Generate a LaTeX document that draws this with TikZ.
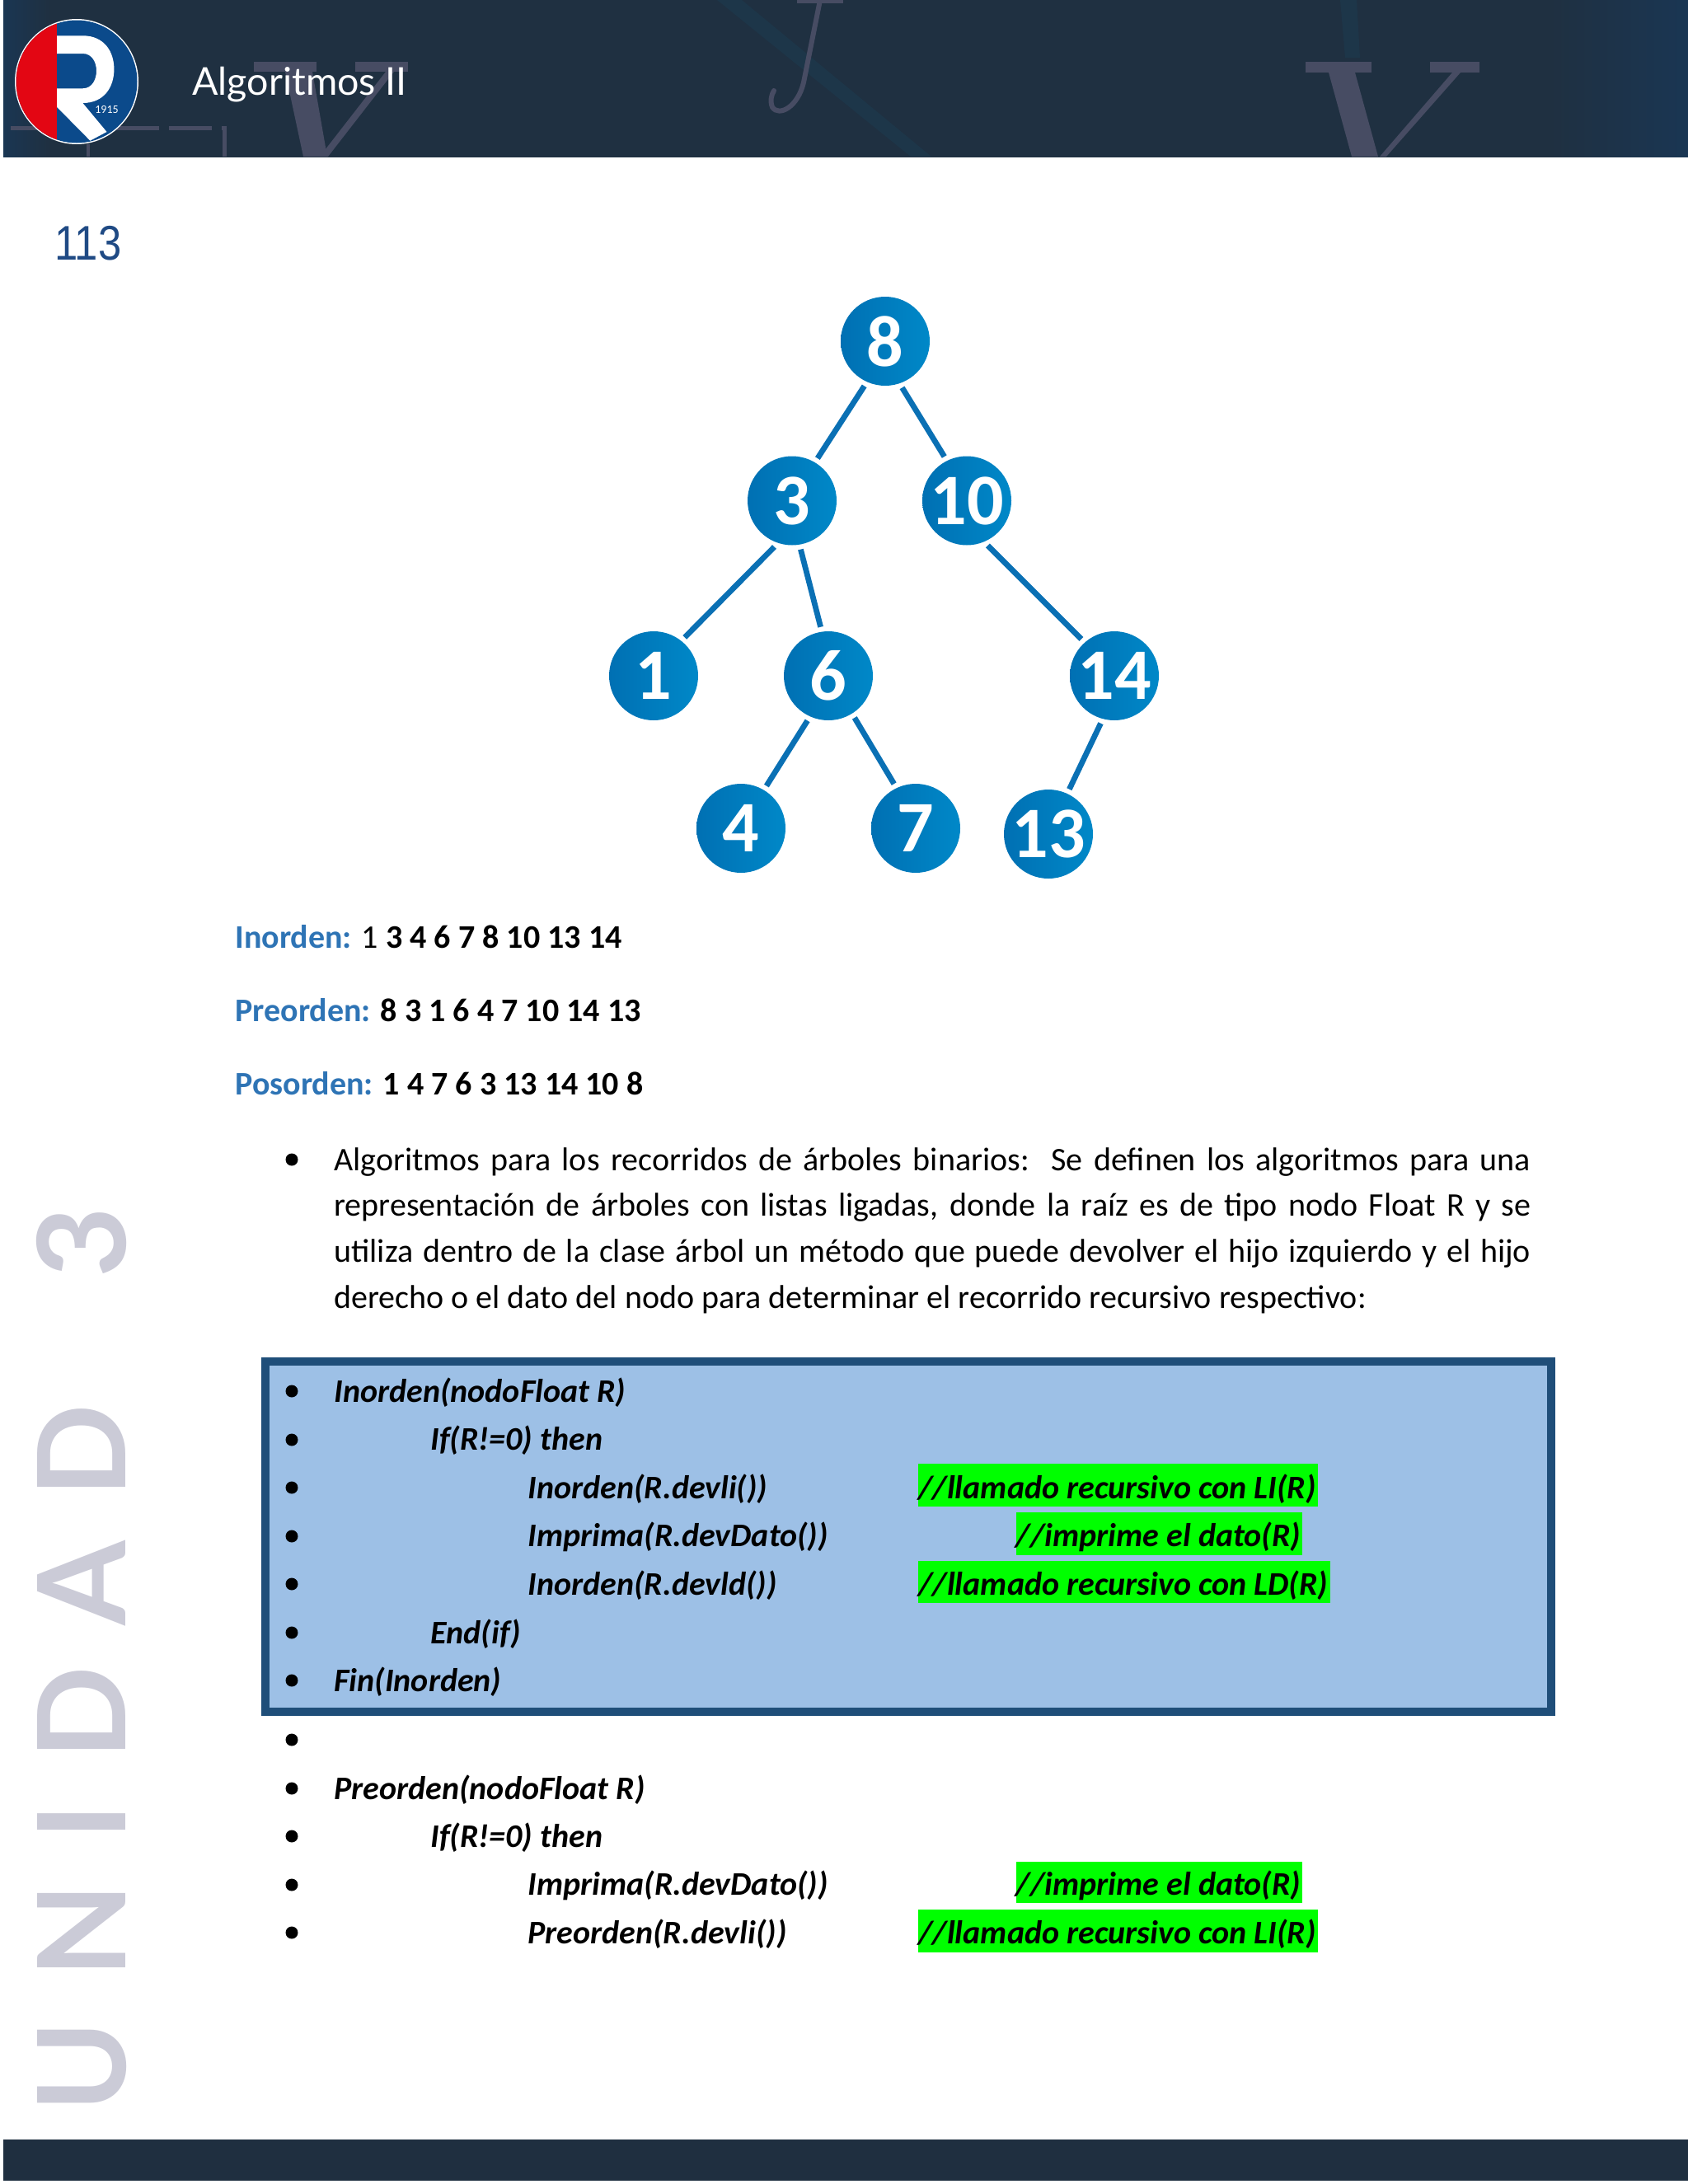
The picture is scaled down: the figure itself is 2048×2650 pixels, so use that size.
\documentclass[tikz,border=0pt]{standalone}
\usepackage{fontspec}
\setmainfont{Carlito}
\newfontfamily\latofont{Lato}
\newfontfamily\narrowfont{Liberation Sans}
\newfontfamily\unidadfont[LetterSpace=36]{Lato}
\definecolor{headbg}{HTML}{1F3041}
\definecolor{headblue}{HTML}{1A3653}
\definecolor{footbg}{HTML}{1F2F40}
\definecolor{ghost}{HTML}{474C63}
\definecolor{streak}{HTML}{1D3649}
\definecolor{logoblue}{HTML}{0B4A8B}
\definecolor{logored}{HTML}{E30613}
\definecolor{pagenum}{HTML}{1F4A84}
\definecolor{unidadgray}{HTML}{CBCBD7}
\definecolor{edgeblue}{HTML}{0A70B4}
\definecolor{nodeleft}{HTML}{0070B3}
\definecolor{noderight}{HTML}{0088C8}
\definecolor{labelblue}{HTML}{2E74B5}
\definecolor{boxfill}{HTML}{9DC0E6}
\definecolor{boxline}{HTML}{1F4E79}
\definecolor{hl}{HTML}{00FF00}
\tikzset{
  treenode/.style={circle,left color=nodeleft,right color=noderight,text=white,
    minimum size=108*0.5pt,inner sep=0pt,outer sep=3pt,
    font=\fontsize{44}{44}\selectfont\bfseries},
  treeedge/.style={draw=edgeblue,line width=3.4pt},
  trav/.style={anchor=base west,inner sep=0pt,font=\fontsize{20}{24}\selectfont},
  codeline/.style={anchor=base west,inner sep=0pt,font=\fontsize{20}{24}\selectfont\bfseries\itshape},
  bulletdot/.style={circle,fill=black,minimum size=7.5pt,inner sep=0pt},
  ghostline/.style={draw=ghost,line width=3pt},
}
\begin{document}
\begin{tikzpicture}[x=0.5pt,y=-0.5pt]
\useasboundingbox (0,0) rectangle (2048,2650);
% header
\fill[headbg] (4,0) rectangle (2048,191);
\shade[left color=headbg,right color=headblue] (1880,0) rectangle (2048,191);
\shade[left color=headblue,right color=headbg] (4,0) rectangle (60,191);
\fill[streak] (870,0) -- (900,0) -- (1130,190) -- (1105,190) -- cycle;
\fill[streak] (1626,0) -- (1646,0) -- (1650,70) -- (1632,70) -- cycle;
% ghost letters
\fill[ghost] (308,75) rectangle (384,87);
\fill[ghost] (431,75) rectangle (495,87);
\fill[ghost] (346,87) -- (379,87) -- (397,190) -- (368,190) -- cycle;
\fill[ghost] (468,87) -- (478,87) -- (398,190) -- (388,190) -- cycle;
\fill[ghost] (1584,75) rectangle (1664,88);
\fill[ghost] (1735,75) rectangle (1795,88);
\fill[ghost] (1612,88) -- (1644,88) -- (1672,190) -- (1640,190) -- cycle;
\fill[ghost] (1762,88) -- (1772,88) -- (1682,190) -- (1674,190) -- cycle;
\fill[ghost] (967,0) rectangle (1023,4);
\draw[ghost,line width=3pt,line cap=round] (995,0) -- (975,100) .. controls (968,130) and (945,142) .. (937,130) .. controls (934,122) and (936,115) .. (939,110);
\draw[ghostline,line width=2.5pt,dash pattern=on 26pt off 6pt] (13,155) -- (272,155) -- (272,190);
\draw[ghostline,line width=2pt] (107,175) -- (107,190);
\fill[white] (0,191) rectangle (2048,196);
% footer
\fill[footbg] (4,2596) rectangle (2048,2646);
% logo
\fill[white] (93,99) ellipse [x radius=75,y radius=76];
\fill[logoblue] (93,99) ellipse [x radius=73.5,y radius=74.5];
\begin{scope}
\clip (93,99) ellipse [x radius=73.5,y radius=74.5];
\fill[logored] (0,0) rectangle (69,200);
\end{scope}
\fill[white] (69.2,43.3) -- (100.4,43.3) .. controls (126,43.3) and (138.4,62) .. (138.4,84)
  .. controls (138.4,106) and (126,125) .. (100.4,125) -- (129.5,160) -- (109.4,170.7) -- (69.2,130) -- (69.2,107.3) -- (100.4,107.3)
  .. controls (112,107.3) and (117,96) .. (117,86) .. controls (117,76) and (112,65) .. (100.4,65) -- (69.2,65) -- cycle;
\node[text=white,inner sep=0pt,font=\fontsize{7}{7}\selectfont] (yr) at (129.5,133) {1915};
% titles
\node[anchor=base west,inner sep=0pt,text=white,font=\latofont\fontsize{23.3}{23.3}\selectfont] (title) at (233,115.7) {Algoritmos II};
\node[anchor=base west,inner sep=0pt,text=pagenum,font=\narrowfont\fontsize{29.5}{29.5}\selectfont,xscale=0.86,transform shape] (page) at (66,315) {113};
% watermark
\node[rotate=90,anchor=base west,inner sep=0pt,text=unidadgray,font=\unidadfont\bfseries\fontsize{74}{74}\selectfont] (unidad) at (152,2563) {UNIDAD\hspace{32pt} 3};
% tree
\node[treenode] (n8) at (1074,414) {8};
\node[treenode] (n3) at (961,607.5) {3};
\node[treenode] (n10) at (1173,607.5) {10};
\node[treenode] (n1) at (793,820) {1};
\node[treenode] (n6) at (1005,820) {6};
\node[treenode] (n14) at (1352,820) {14};
\node[treenode] (n4) at (899,1005) {4};
\node[treenode] (n7) at (1111,1005) {7};
\node[treenode] (n13) at (1272,1012) {13};
\draw[treeedge] (n8.245.6) -- (n3.59);
\draw[treeedge] (n8.290.5) -- (n10.117.8);
\draw[treeedge] (n3.249) -- (n1.51.2);
\draw[treeedge] (n3.280) -- (n6.99);
\draw[treeedge] (n10.295.5) -- (n14.132.4);
\draw[treeedge] (n6.245) -- (n4.59);
\draw[treeedge] (n6.302.5) -- (n7.116);
\draw[treeedge] (n14.254) -- (n13.65);
% traversals
\node[trav] (t1) at (285,1150.5) {\textcolor{labelblue}{\bfseries Inorden:} 1 \textbf{3 4 6 7 8 10 13 14}};
\node[trav] (t2) at (285,1239) {\textcolor{labelblue}{\bfseries Preorden:} \textbf{8 3 1 6 4 7 10 14 13}};
\node[trav] (t3) at (285,1328.5) {\textcolor{labelblue}{\bfseries Posorden:} \textbf{1 4 7 6 3 13 14 10 8}};
% paragraph
\node[bulletdot] (b0) at (354,1407) {};
\node[anchor=north west,inner sep=0pt,text width=726pt,align=justify,font=\fontsize{20}{27.9}\selectfont] (para) at (405,1392)
 {Algoritmos para los recorridos de árboles binarios:\ \ Se definen los algoritmos para una\linebreak
  representación de árboles con listas ligadas, donde la raíz es de tipo nodo Float R y se\linebreak
  utiliza dentro de la clase árbol un método que puede devolver el hijo izquierdo y el hijo\linebreak
  derecho o el dato del nodo para determinar el recorrido recursivo respectivo:};
% code box
\filldraw[fill=boxfill,draw=boxline,line width=5pt] (322,1652) rectangle (1882,2077);
\fill[hl] (1114,1776) rectangle (1599,1828);
\fill[hl] (1232.5,1835) rectangle (1580,1887);
\fill[hl] (1114,1894) rectangle (1614,1945);
\fill[hl] (1232.5,2258.5) rectangle (1580,2309);
\fill[hl] (1114,2317) rectangle (1599,2369);
\foreach \by in {1688,1747,1805,1864,1922,1981,2039,2111,2170,2228,2287,2345}{
  \node[bulletdot] at (354,\by) {};
}
\node[codeline] (c1) at (405,1701) {Inorden(nodoFloat R)};
\node[codeline] (c2) at (522,1759) {If(R!=0) then};
\node[codeline] (c3) at (640,1818) {Inorden(R.devli())};
\node[codeline] (c3b) at (1114,1818) {//llamado recursivo con LI(R)};
\node[codeline] (c4) at (640,1876.5) {Imprima(R.devDato())};
\node[codeline] (c4b) at (1232.5,1876.5) {//imprime el dato(R)};
\node[codeline] (c5) at (640,1935) {Inorden(R.devld())};
\node[codeline] (c5b) at (1114,1935) {//llamado recursivo con LD(R)};
\node[codeline] (c6) at (522,1994) {End(if)};
\node[codeline] (c7) at (405,2052) {Fin(Inorden)};
\node[codeline] (d1) at (405,2183) {Preorden(nodoFloat R)};
\node[codeline] (d2) at (522,2241.5) {If(R!=0) then};
\node[codeline] (d3) at (640,2299.5) {Imprima(R.devDato())};
\node[codeline] (d3b) at (1232.5,2299.5) {//imprime el dato(R)};
\node[codeline] (d4) at (640,2358) {Preorden(R.devli())};
\node[codeline] (d4b) at (1114,2358) {//llamado recursivo con LI(R)};
\end{tikzpicture}
\end{document}
